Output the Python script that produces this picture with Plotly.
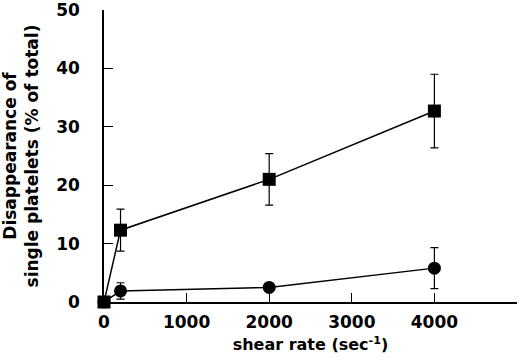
import plotly.graph_objects as go

shear_rate = [0, 200, 2000, 4000]
squares_mean = [0, 12.3, 21.0, 32.7]
squares_err = [0, 3.6, 4.4, 6.3]
circles_mean = [0, 1.9, 2.5, 5.8]
circles_err = [0, 1.4, 0, 3.5]

x_tickvals = [0, 1000, 2000, 3000, 4000]
x_ticktext = ["0", "1000", "2000", "3000", "4000"]
x_extra_tick = [5000]
y_tickvals = [0, 10, 20, 30, 40, 50]

FONT = "DejaVu Sans, sans-serif"
SP = "&nbsp;"

fig = go.Figure()
fig.add_trace(go.Scatter(
    x=shear_rate, y=circles_mean, mode="lines+markers",
    line=dict(color="black", width=1.5),
    marker=dict(symbol="circle", size=13, color="black"),
    error_y=dict(type="data", array=circles_err, color="black", thickness=1.2, width=4),
    cliponaxis=False, showlegend=False))
fig.add_trace(go.Scatter(
    x=shear_rate, y=squares_mean, mode="lines+markers",
    line=dict(color="black", width=1.5),
    marker=dict(symbol="square", size=13, color="black"),
    error_y=dict(type="data", array=squares_err, color="black", thickness=1.2, width=4),
    cliponaxis=False, showlegend=False))

fig.update_layout(
    width=520, height=359,
    margin=dict(l=104, r=3, t=10, b=57),
    paper_bgcolor="white", plot_bgcolor="white",
    font=dict(family=FONT, color="black", size=17),
    xaxis=dict(range=[0, 5000], tickvals=x_tickvals, ticktext=x_ticktext,
               ticks="inside", ticklen=9, tickwidth=1.2, tickcolor="black",
               showline=True, linecolor="black", linewidth=1.5, automargin=False,
               showgrid=False, zeroline=False, ticklabelstandoff=4,
               ticklabeloverflow="allow",
               tickfont=dict(family=FONT, size=17, color="black", weight="bold"),
               title=dict(text="<b>shear" + SP + "rate" + SP + "(sec<sup>-1</sup>)</b>",
                          font=dict(family=FONT, size=16, color="black"), standoff=8)),
    xaxis2=dict(range=[0, 5000], overlaying="x", matches="x", side="bottom",
                tickvals=x_extra_tick, showticklabels=False, automargin=False,
                ticks="inside", ticklen=9, tickwidth=1.2, tickcolor="black",
                showline=False, showgrid=False, zeroline=False),
    yaxis=dict(range=[0, 50], tickvals=y_tickvals,
               ticks="inside", ticklen=9, tickwidth=1.2, tickcolor="black",
               showline=True, linecolor="black", linewidth=1.5, automargin=False,
               showgrid=False, zeroline=False, ticklabelstandoff=19,
               ticklabeloverflow="allow",
               tickfont=dict(family=FONT, size=17, color="black", weight="bold"),
               title=dict(text="<b>Disappearance" + SP + "of<br>single" + SP + "platelets" + SP + "(%" + SP + "of" + SP + "total)</b>",
                          font=dict(family=FONT, size=17, color="black"), standoff=28)),
)
fig.add_trace(go.Scatter(x=[5000], y=[None], xaxis="x2", showlegend=False, hoverinfo="skip"))

fig.write_html("out.html", config={"displayModeBar": False},
               post_script="document.body.style.margin='0';")
